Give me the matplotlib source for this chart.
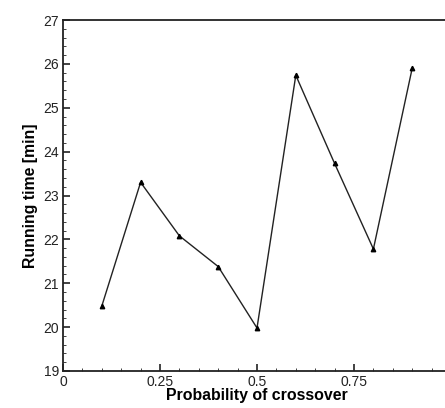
import matplotlib.pyplot as plt
from matplotlib.ticker import MultipleLocator, FixedFormatter, FixedLocator

plt.rcParams['font.family'] = ['Liberation Sans', 'DejaVu Sans']

# data
crossover = [0.1, 0.2, 0.3, 0.4, 0.5, 0.6, 0.7, 0.8, 0.9]
run_time = [20.48, 23.3, 22.08, 21.38, 19.98, 25.74, 23.73, 21.78, 25.9]
x_ticks = [0, 0.25, 0.5, 0.75]
x_labels = ['0', '0.25', '0.5', '0.75']

fig = plt.figure(figsize=(4.45, 4.08), dpi=100)
# axes runs past the right edge, like the cropped original
ax = fig.add_axes([63 / 445, 37 / 408, 388 / 445, 351 / 408])

ax.plot(crossover, run_time, color='#222222', lw=1.0,
        marker='^', ms=3.2, mfc='black', mec='black')

ax.set_xlim(0, 1)
ax.set_ylim(19, 27)
ax.xaxis.set_major_locator(FixedLocator(x_ticks))
ax.xaxis.set_major_formatter(FixedFormatter(x_labels))
ax.xaxis.set_minor_locator(MultipleLocator(0.05))
ax.yaxis.set_major_locator(MultipleLocator(1))
ax.yaxis.set_minor_locator(MultipleLocator(0.2))

ax.tick_params(which='both', direction='in', top=False, right=False,
               labelsize=10, colors='#222222')
ax.tick_params(which='major', length=5, width=1.2, pad=3)
ax.tick_params(which='minor', length=2.5, width=0.6)

for s in ax.spines.values():
    s.set_linewidth(1.3)
    s.set_color('#222222')

ax.set_xlabel('Probability of crossover', fontsize=11.4, fontweight='bold', labelpad=-1)
ax.set_ylabel('Running time [min]', fontsize=11.4, fontweight='bold', labelpad=4)

fig.savefig('out.png', dpi=100)
